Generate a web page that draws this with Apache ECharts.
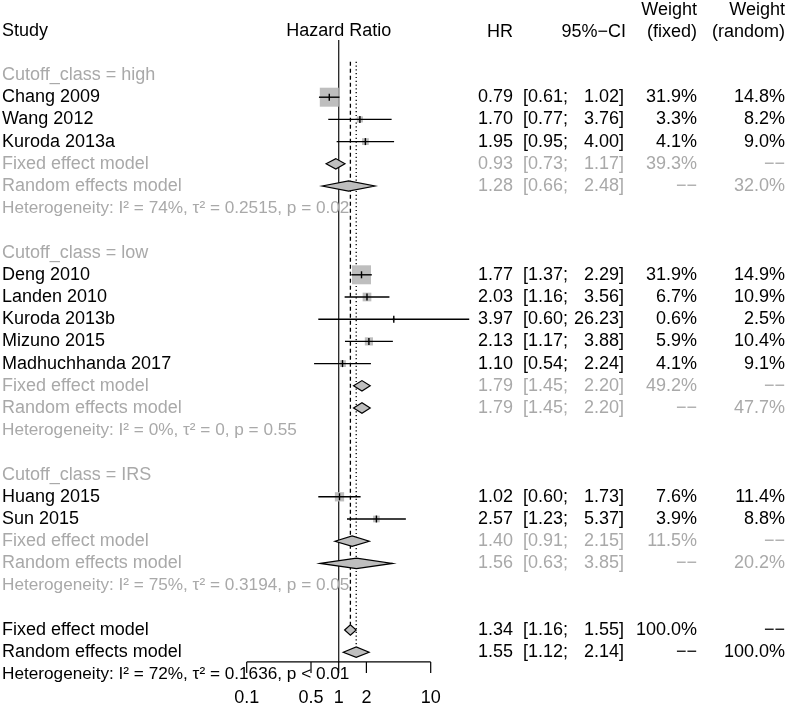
<!DOCTYPE html>
<html><head><meta charset="utf-8">
<script src="https://cdn.jsdelivr.net/npm/echarts@6/dist/echarts.min.js"></script>
<style>html,body{margin:0;padding:0;background:#fff}#c{width:787px;height:704px}</style>
</head><body><div id="c"></div>
<script>
// ---------------- data ----------------
const groupLabels = ['Cutoff_class = high', 'Cutoff_class = low', 'Cutoff_class = IRS'];
const studies      = ['Chang 2009','Wang 2012','Kuroda 2013a','Deng 2010','Landen 2010','Kuroda 2013b','Mizuno 2015','Madhuchhanda 2017','Huang 2015','Sun 2015'];
const studyGroup   = [0,0,0,1,1,1,1,1,2,2];
const studyHR      = [0.79,1.70,1.95,1.77,2.03,3.97,2.13,1.10,1.02,2.57];
const studyLower   = [0.61,0.77,0.95,1.37,1.16,0.60,1.17,0.54,0.60,1.23];
const studyUpper   = [1.02,3.76,4.00,2.29,3.56,26.23,3.88,2.24,1.73,5.37];
const studyWFixed  = [31.9,3.3,4.1,31.9,6.7,0.6,5.9,4.1,7.6,3.9];
const studyWRandom = [14.8,8.2,9.0,14.9,10.9,2.5,10.4,9.1,11.4,8.8];
const fixedHR    = [0.93,1.79,1.40];
const fixedLower = [0.73,1.45,0.91];
const fixedUpper = [1.17,2.20,2.15];
const fixedW     = [39.3,49.2,11.5];
const randomHR    = [1.28,1.79,1.56];
const randomLower = [0.66,1.45,0.63];
const randomUpper = [2.48,2.20,3.85];
const randomW     = [32.0,47.7,20.2];
const heterogeneity = [
  'Heterogeneity: I\u00b2 = 74%, \u03c4\u00b2 = 0.2515, p = 0.02',
  'Heterogeneity: I\u00b2 = 0%, \u03c4\u00b2 = 0, p = 0.55',
  'Heterogeneity: I\u00b2 = 75%, \u03c4\u00b2 = 0.3194, p = 0.05'
];
const overallHR    = [1.34, 1.55];   // fixed, random
const overallLower = [1.16, 1.12];
const overallUpper = [1.55, 2.14];
const overallHet = 'Heterogeneity: I\u00b2 = 72%, \u03c4\u00b2 = 0.1636, p < 0.01';
const axisTicks = [0.1, 0.5, 1, 2, 10];
const axisTickLabels = ['0.1', '0.5', '1', '2', '10'];

// ---------------- layout / style ----------------
const FONT = "'Liberation Sans', Arial, Helvetica, sans-serif";
const FS = 18, FS_HET = 17.2;
const GRAY = '#a9a9a9', BLACK = '#000';
const COL = {label: 2, hr: 513, ciLo: 523, ciHi: 624, wf: 697, wr: 785};
const HEAD1 = -1.93, HEAD0 = -2.93;
const DASH = '\u2212\u2212';
const SQ_K = 3.36;      // square side per sqrt(weight)
const DIA_H = 5.2;      // diamond half height (px)
const AXIS_ROW = 26.44;

const fmt2 = v => v.toFixed(2);
const fmtW = v => v.toFixed(1) + '%';

// ---------------- build rows ----------------
const texts = [];
const studyData = [];
const diamondData = [];
function addText(x, row, text, align, color, size) {
  texts.push({x, row, text, align, color, size: size || FS});
}
function addNumbers(row, hr, lo, hi, wf, wr, color) {
  addText(COL.hr, row, fmt2(hr), 'right', color);
  addText(COL.ciLo, row, '[' + fmt2(lo) + ';', 'left', color);
  addText(COL.ciHi, row, fmt2(hi) + ']', 'right', color);
  addText(COL.wf, row, wf == null ? DASH : fmtW(wf), 'right', color);
  addText(COL.wr, row, wr == null ? DASH : fmtW(wr), 'right', color);
}
// headers
addText(COL.label, -2, 'Study', 'left', BLACK);
addText(COL.hr, HEAD1, 'HR', 'right', BLACK);
addText(COL.ciHi + 2, HEAD1, '95%\u2212CI', 'right', BLACK);
addText(COL.wf, HEAD0, 'Weight', 'right', BLACK);
addText(COL.wf, HEAD1, '(fixed)', 'right', BLACK);
addText(COL.wr, HEAD0, 'Weight', 'right', BLACK);
addText(COL.wr, HEAD1, '(random)', 'right', BLACK);

let row = 0;
groupLabels.forEach((g, gi) => {
  addText(COL.label, row, g, 'left', GRAY); row++;
  studies.forEach((s, si) => {
    if (studyGroup[si] !== gi) return;
    addText(COL.label, row, s, 'left', BLACK);
    addNumbers(row, studyHR[si], studyLower[si], studyUpper[si], studyWFixed[si], studyWRandom[si], BLACK);
    studyData.push([studyLower[si], studyHR[si], studyUpper[si], row, studyWFixed[si]]);
    row++;
  });
  addText(COL.label, row, 'Fixed effect model', 'left', GRAY);
  addNumbers(row, fixedHR[gi], fixedLower[gi], fixedUpper[gi], fixedW[gi], null, GRAY);
  diamondData.push([fixedLower[gi], fixedHR[gi], fixedUpper[gi], row]); row++;
  addText(COL.label, row, 'Random effects model', 'left', GRAY);
  addNumbers(row, randomHR[gi], randomLower[gi], randomUpper[gi], null, randomW[gi], GRAY);
  diamondData.push([randomLower[gi], randomHR[gi], randomUpper[gi], row]); row++;
  addText(COL.label, row, heterogeneity[gi], 'left', GRAY, FS_HET); row++;
  row++;
});
const overallFixedRow = row;
addText(COL.label, row, 'Fixed effect model', 'left', BLACK);
addNumbers(row, overallHR[0], overallLower[0], overallUpper[0], 100.0, null, BLACK);
diamondData.push([overallLower[0], overallHR[0], overallUpper[0], row]); row++;
const overallRandomRow = row;
addText(COL.label, row, 'Random effects model', 'left', BLACK);
addNumbers(row, overallHR[1], overallLower[1], overallUpper[1], null, 100.0, BLACK);
diamondData.push([overallLower[1], overallHR[1], overallUpper[1], row]); row++;
addText(COL.label, row, overallHet, 'left', BLACK, FS_HET);

// reference lines: [x, rowStart, rowEnd, kind]
const refLines = [
  [1, -1.58, AXIS_ROW, 0],
  [overallHR[0], -0.6, overallFixedRow, 1],
  [overallHR[1], -0.6, overallRandomRow, 2]
];

// ---------------- chart ----------------
const chart = echarts.init(document.getElementById('c'), null, {renderer: 'canvas'});
const option = {
  animation: false,
  backgroundColor: '#fff',
  grid: [
    {left: 246.7, right: 264.3, top: 30.6, bottom: 7.4},
    {left: 0, right: 0, top: 30.6, bottom: 7.4}
  ],
  xAxis: [
    {type: 'log', logBase: 10, min: 0.1, max: 100, gridIndex: 0, show: false},
    {type: 'value', min: 0, max: 787, gridIndex: 1, show: false}
  ],
  yAxis: [
    {type: 'value', min: -2, max: 28, inverse: true, gridIndex: 0, show: false},
    {type: 'value', min: -2, max: 28, inverse: true, gridIndex: 1, show: false}
  ],
  series: [
    { // reference lines
      type: 'custom', xAxisIndex: 0, yAxisIndex: 0, z: 1, clip: false,
      data: refLines,
      renderItem(params, api) {
        const a = api.coord([api.value(0), api.value(1)]);
        const b = api.coord([api.value(0), api.value(2)]);
        const kind = api.value(3);
        let y2 = b[1];
        let dash = null;
        if (kind === 1) { y2 -= DIA_H; dash = [4, 3]; }
        if (kind === 2) { y2 -= DIA_H; dash = [1.2, 2.6]; }
        return {type: 'line', shape: {x1: a[0], y1: a[1], x2: b[0], y2: y2},
          style: {stroke: kind === 0 ? '#222' : '#000', lineWidth: 1.3, lineDash: dash}};
      }
    },
    { // studies
      type: 'custom', xAxisIndex: 0, yAxisIndex: 0, z: 3, clip: false,
      data: studyData,
      renderItem(params, api) {
        const r = api.value(3);
        const lo = api.coord([api.value(0), r]);
        const c = api.coord([api.value(1), r]);
        const hi = api.coord([api.value(2), r]);
        const s = SQ_K * Math.sqrt(api.value(4));
        return {type: 'group', children: [
          {type: 'rect', shape: {x: c[0] - s / 2, y: c[1] - s / 2, width: s, height: s}, style: {fill: '#bebebe'}},
          {type: 'line', shape: {x1: lo[0], y1: lo[1], x2: hi[0], y2: hi[1]}, style: {stroke: '#000', lineWidth: 1.4}},
          {type: 'line', shape: {x1: c[0], y1: c[1] - 3.5, x2: c[0], y2: c[1] + 3.5}, style: {stroke: '#000', lineWidth: 1.4}}
        ]};
      }
    },
    { // diamonds
      type: 'custom', xAxisIndex: 0, yAxisIndex: 0, z: 3, clip: false,
      data: diamondData,
      renderItem(params, api) {
        const r = api.value(3);
        const lo = api.coord([api.value(0), r]);
        const c = api.coord([api.value(1), r]);
        const hi = api.coord([api.value(2), r]);
        return {type: 'polygon', shape: {points: [[lo[0], lo[1]], [c[0], c[1] - DIA_H], [hi[0], hi[1]], [c[0], c[1] + DIA_H]]},
          style: {fill: '#bebebe', stroke: '#000', lineWidth: 1.2}};
      }
    },
    { // axis line
      type: 'custom', xAxisIndex: 0, yAxisIndex: 0, z: 2, clip: false,
      data: [[axisTicks[0], axisTicks[axisTicks.length - 1], AXIS_ROW]],
      renderItem(params, api) {
        const a = api.coord([api.value(0), api.value(2)]);
        const b = api.coord([api.value(1), api.value(2)]);
        return {type: 'line', shape: {x1: a[0], y1: a[1], x2: b[0], y2: b[1]}, style: {stroke: '#000', lineWidth: 1.2}};
      }
    },
    { // axis ticks + labels
      type: 'custom', xAxisIndex: 0, yAxisIndex: 0, z: 2, clip: false,
      data: axisTicks.map(v => [v, AXIS_ROW]),
      renderItem(params, api) {
        const p = api.coord([api.value(0), api.value(1)]);
        return {type: 'group', children: [
          {type: 'line', shape: {x1: p[0], y1: p[1], x2: p[0], y2: p[1] + 11}, style: {stroke: '#000', lineWidth: 1.2}},
          {type: 'text', x: p[0], y: p[1] + 36, style: {text: axisTickLabels[params.dataIndex], fill: '#000',
            fontSize: FS, fontFamily: FONT, align: 'center', verticalAlign: 'middle'}}
        ]};
      }
    },
    { // "Hazard Ratio" header, centred on HR = 1
      type: 'custom', xAxisIndex: 0, yAxisIndex: 0, z: 4, clip: false,
      data: [[1, -2]],
      renderItem(params, api) {
        const p = api.coord([api.value(0), api.value(1)]);
        return {type: 'text', x: p[0], y: p[1], style: {text: 'Hazard Ratio', fill: '#000',
          fontSize: FS, fontFamily: FONT, align: 'center', verticalAlign: 'middle'}};
      }
    },
    { // table text
      type: 'custom', xAxisIndex: 1, yAxisIndex: 1, z: 5, clip: false,
      data: texts.map(t => [t.x, t.row]),
      renderItem(params, api) {
        const t = texts[params.dataIndex];
        const p = api.coord([api.value(0), api.value(1)]);
        return {type: 'text', x: p[0], y: p[1], style: {text: t.text, fill: t.color,
          fontSize: t.size, fontFamily: FONT, align: t.align, verticalAlign: 'middle'}};
      }
    }
  ]
};
chart.setOption(option);
</script></body></html>
